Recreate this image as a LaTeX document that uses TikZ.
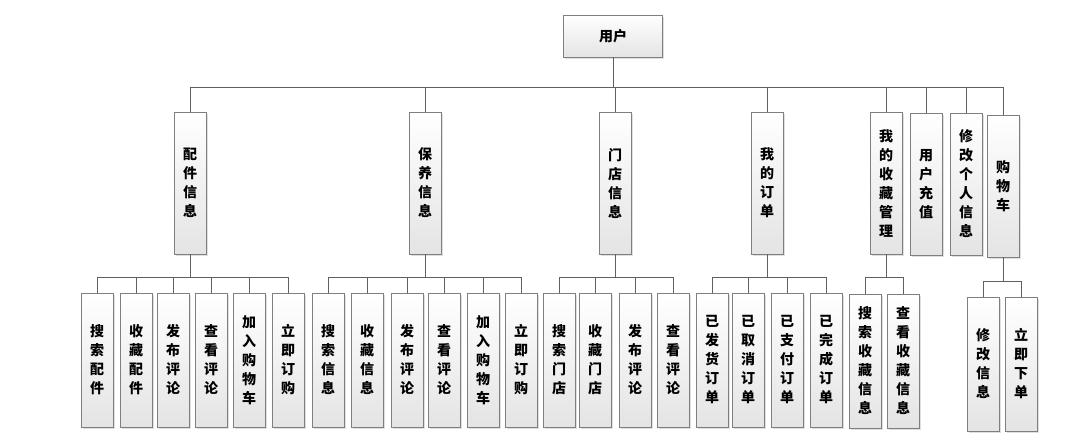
\documentclass[tikz,border=0pt]{standalone}
\usepackage{fontspec}
\usepackage{tikz}
\usetikzlibrary{shadows}
\newfontfamily\cjk{Noto Sans CJK SC}
\definecolor{boxline}{HTML}{7F7F7F}
\definecolor{boxfill}{HTML}{E4E4E4}
\definecolor{wirecol}{HTML}{606060}

\begin{document}
\begin{tikzpicture}[x=1pt,y=-1pt,
    box/.style={draw=boxline,line width=0.8pt,top color=white,bottom color=boxfill,
      drop shadow={shadow xshift=1.5pt,shadow yshift=-1.5pt,opacity=0.25},
      inner sep=0pt,minimum width=32pt,align=center,
      font=\cjk\bfseries\fontsize{14}{19}\selectfont},
    mid/.style={box,minimum height=142pt},
    leaf/.style={box,minimum height=134pt},
    wire/.style={draw=wirecol,line width=0.8pt}]
    \useasboundingbox (0,0) rectangle (1082,447);
    % top
    \node [box,minimum width=99pt,minimum height=42pt] (user) at (613,36) {用户};
    % second row
    \node [mid] (parts) at (190,183) {配\\件\\信\\息};
    \node [mid] (care) at (425,183) {保\\养\\信\\息};
    \node [mid] (store) at (615,183) {门\\店\\信\\息};
    \node [mid] (order) at (767,183) {我\\的\\订\\单};
    \node [mid] (fav) at (886,183) {我\\的\\收\\藏\\管\\理};
    \node [mid] (charge) at (926,184) {用\\户\\充\\值};
    \node [mid] (profile) at (966,184) {修\\改\\个\\人\\信\\息};
    \node [mid] (cart) at (1003,186) {购\\物\\车};
    \draw [wire] (user.south) -- ++(0,30) -| (parts.north);
    \draw [wire] (user.south) -- ++(0,30) -| (care.north);
    \draw [wire] (user.south) -- ++(0,30) -| (store.north);
    \draw [wire] (user.south) -- ++(0,30) -| (order.north);
    \draw [wire] (user.south) -- ++(0,30) -| (fav.north);
    \draw [wire] (user.south) -- ++(0,30) -| (charge.north);
    \draw [wire] (user.south) -- ++(0,30) -| (profile.north);
    \draw [wire] (user.south) -- ++(0,30) -| (cart.north);
    % parts
    \node [leaf] (parts1) at (97,360) {搜\\索\\配\\件};
    \node [leaf] (parts2) at (136,360) {收\\藏\\配\\件};
    \node [leaf] (parts3) at (173,360) {发\\布\\评\\论};
    \node [leaf] (parts4) at (211,360) {查\\看\\评\\论};
    \node [leaf] (parts5) at (249,360) {加\\入\\购\\物\\车};
    \node [leaf] (parts6) at (288,360) {立\\即\\订\\购};
    \draw [wire] (parts.south) -- ++(0,23) -| (parts1.north);
    \draw [wire] (parts.south) -- ++(0,23) -| (parts2.north);
    \draw [wire] (parts.south) -- ++(0,23) -| (parts3.north);
    \draw [wire] (parts.south) -- ++(0,23) -| (parts4.north);
    \draw [wire] (parts.south) -- ++(0,23) -| (parts5.north);
    \draw [wire] (parts.south) -- ++(0,23) -| (parts6.north);
    % care
    \node [leaf] (care1) at (328,360) {搜\\索\\信\\息};
    \node [leaf] (care2) at (367,360) {收\\藏\\信\\息};
    \node [leaf] (care3) at (407,360) {发\\布\\评\\论};
    \node [leaf] (care4) at (444,360) {查\\看\\评\\论};
    \node [leaf] (care5) at (483,360) {加\\入\\购\\物\\车};
    \node [leaf] (care6) at (521,360) {立\\即\\订\\购};
    \draw [wire] (care.south) -- ++(0,23) -| (care1.north);
    \draw [wire] (care.south) -- ++(0,23) -| (care2.north);
    \draw [wire] (care.south) -- ++(0,23) -| (care3.north);
    \draw [wire] (care.south) -- ++(0,23) -| (care4.north);
    \draw [wire] (care.south) -- ++(0,23) -| (care5.north);
    \draw [wire] (care.south) -- ++(0,23) -| (care6.north);
    % store
    \node [leaf] (store1) at (559,360) {搜\\索\\门\\店};
    \node [leaf] (store2) at (595,360) {收\\藏\\门\\店};
    \node [leaf] (store3) at (635,360) {发\\布\\评\\论};
    \node [leaf] (store4) at (673,360) {查\\看\\评\\论};
    \draw [wire] (store.south) -- ++(0,23) -| (store1.north);
    \draw [wire] (store.south) -- ++(0,23) -| (store2.north);
    \draw [wire] (store.south) -- ++(0,23) -| (store3.north);
    \draw [wire] (store.south) -- ++(0,23) -| (store4.north);
    % order
    \node [leaf] (order1) at (712,360) {已\\发\\货\\订\\单};
    \node [leaf] (order2) at (748,360) {已\\取\\消\\订\\单};
    \node [leaf] (order3) at (787,360) {已\\支\\付\\订\\单};
    \node [leaf] (order4) at (826,360) {已\\完\\成\\订\\单};
    \draw [wire] (order.south) -- ++(0,23) -| (order1.north);
    \draw [wire] (order.south) -- ++(0,23) -| (order2.north);
    \draw [wire] (order.south) -- ++(0,23) -| (order3.north);
    \draw [wire] (order.south) -- ++(0,23) -| (order4.north);
    % fav
    \node [leaf] (fav1) at (865,361) {搜\\索\\收\\藏\\信\\息};
    \node [leaf] (fav2) at (903,361) {查\\看\\收\\藏\\信\\息};
    \draw [wire] (fav.south) -- ++(0,23) -| (fav1.north);
    \draw [wire] (fav.south) -- ++(0,23) -| (fav2.north);
    % cart
    \node [leaf] (cart1) at (983,364) {修\\改\\信\\息};
    \node [leaf] (cart2) at (1021,364) {立\\即\\下\\单};
    \draw [wire] (cart.south) -- ++(0,24) -| (cart1.north);
    \draw [wire] (cart.south) -- ++(0,24) -| (cart2.north);
\end{tikzpicture}
\end{document}
